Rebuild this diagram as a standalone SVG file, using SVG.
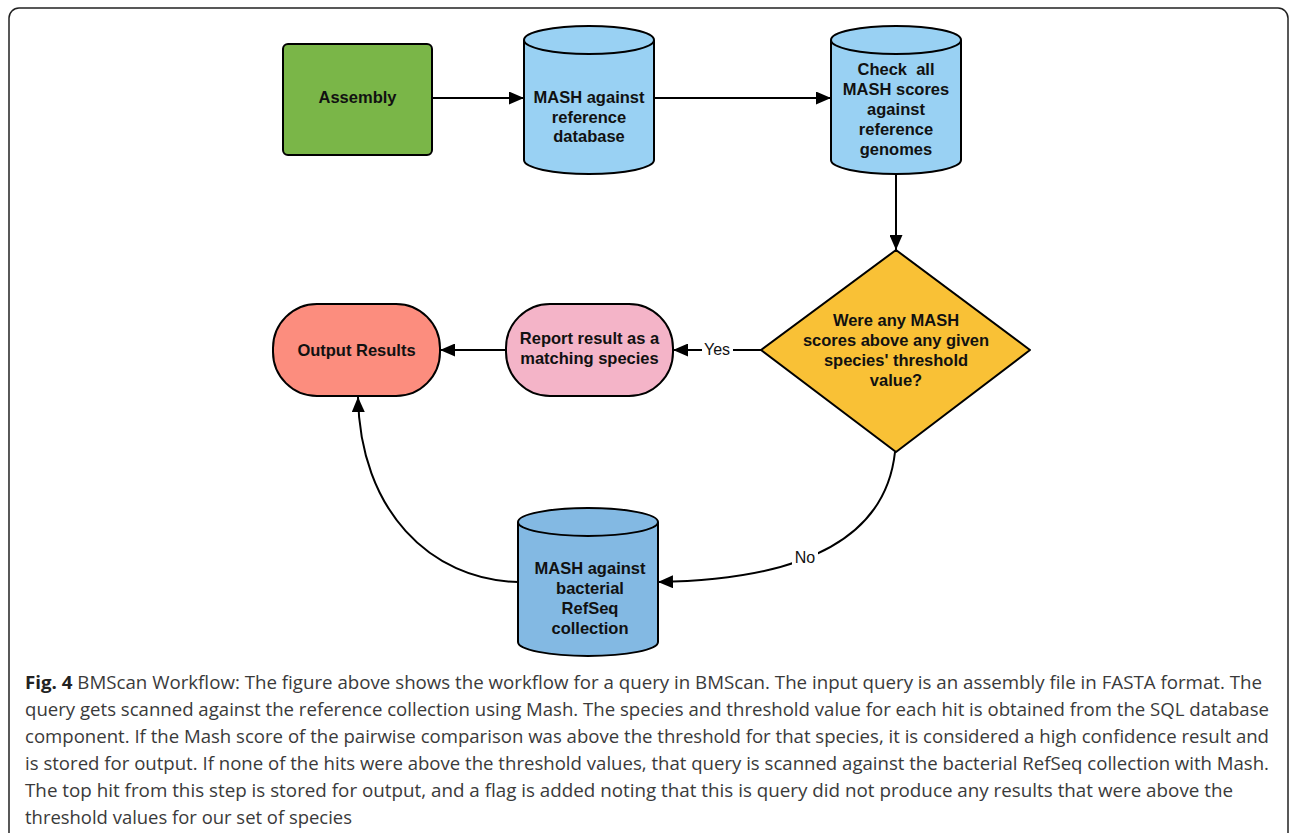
<svg xmlns="http://www.w3.org/2000/svg" width="1290" height="833" viewBox="0 0 1290 833">
<defs>
<marker id="arr" viewBox="0 0 15 13" refX="15" refY="6.5" markerWidth="15" markerHeight="13" markerUnits="userSpaceOnUse" orient="auto">
<path d="M0,0 L15,6.5 L0,13 Z" fill="#000"/>
</marker>
</defs>
<style>
.shape{stroke:#000;stroke-width:2}
.lbl{font-family:"Liberation Sans",Arial,sans-serif;font-weight:bold;font-size:16.5px;fill:#111;text-anchor:middle}
.edge{fill:none;stroke:#000;stroke-width:2}
.elbl{font-family:"Liberation Sans",Arial,sans-serif;font-size:16px;fill:#111;text-anchor:middle}
.cap{font-family:"Open Sans","Noto Sans",sans-serif;font-size:18px;fill:#3a3a3a}
</style>
<rect width="1290" height="833" fill="#fff"/>
<rect x="9" y="8" width="1279" height="850" rx="10" fill="none" stroke="#222" stroke-width="1.5"/>

<g id="connectors">
<path class="edge" d="M432,98 L524,98" marker-end="url(#arr)"/>
<path class="edge" d="M654,98 L831,98" marker-end="url(#arr)"/>
<path class="edge" d="M896,174 L896,250" marker-end="url(#arr)"/>
<path class="edge" d="M761,350 L673,350" marker-end="url(#arr)"/>
<path class="edge" d="M506,350 L440,350" marker-end="url(#arr)"/>
<path class="edge" d="M895,452 C885,545 790,580 658,582" marker-end="url(#arr)"/>
<path class="edge" d="M518,582 C430,580 360,510 358,397" marker-end="url(#arr)"/>
<rect x="702" y="340" width="31" height="18" fill="#fff"/>
<text class="elbl" x="717" y="355">Yes</text>
<rect x="792" y="548" width="26" height="18" fill="#fff"/>
<text class="elbl" x="805" y="563">No</text>
</g>

<g id="assembly">
<rect class="shape" x="283" y="44" width="149" height="111" rx="5" fill="#7ab648"/>
<text class="lbl" x="357.5" y="103">Assembly</text>
</g>

<g id="mash-ref">
<path class="shape" d="M524,40 L524,160 A65,14 0 0 0 654,160 L654,40 A65,14 0 0 0 524,40 Z" fill="#99d1f3"/>
<path class="shape" d="M524,40 A65,14 0 0 0 654,40" fill="none"/>
<text class="lbl" x="589" y="103">MASH against</text>
<text class="lbl" x="589" y="123">reference</text>
<text class="lbl" x="589" y="142">database</text>
</g>

<g id="check-scores">
<path class="shape" d="M831,40 L831,160 A65,14 0 0 0 961,160 L961,40 A65,14 0 0 0 831,40 Z" fill="#99d1f3"/>
<path class="shape" d="M831,40 A65,14 0 0 0 961,40" fill="none"/>
<text class="lbl" x="896" y="75" xml:space="preserve">Check  all</text>
<text class="lbl" x="896" y="95">MASH scores</text>
<text class="lbl" x="896" y="115">against</text>
<text class="lbl" x="896" y="135">reference</text>
<text class="lbl" x="896" y="155">genomes</text>
</g>

<g id="decision">
<path class="shape" d="M896,250 L1030,350 L896,452 L761,350 Z" stroke-linejoin="round" fill="#f9c136"/>
<text class="lbl" x="896" y="326">Were any MASH</text>
<text class="lbl" x="896" y="346">scores above any given</text>
<text class="lbl" x="896" y="366">species' threshold</text>
<text class="lbl" x="896" y="386">value?</text>
</g>

<g id="report">
<rect class="shape" x="506" y="304" width="167" height="92" rx="44" fill="#f4b4c8"/>
<text class="lbl" x="589.5" y="344">Report result as a</text>
<text class="lbl" x="589.5" y="364">matching species</text>
</g>

<g id="output">
<rect class="shape" x="273" y="304" width="167" height="92" rx="44" fill="#fc8d7e"/>
<text class="lbl" x="356.5" y="356">Output Results</text>
</g>

<g id="mash-refseq">
<path class="shape" d="M518,522 L518,642 A70,14 0 0 0 658,642 L658,522 A70,14 0 0 0 518,522 Z" fill="#83b9e3"/>
<path class="shape" d="M518,522 A70,14 0 0 0 658,522" fill="none"/>
<text class="lbl" x="590" y="574">MASH against</text>
<text class="lbl" x="590" y="594">bacterial</text>
<text class="lbl" x="590" y="614">RefSeq</text>
<text class="lbl" x="590" y="634">collection</text>
</g>

<g id="caption">
<text class="cap" x="25" y="689" textLength="1237" lengthAdjust="spacingAndGlyphs"><tspan font-weight="bold" fill="#222">Fig. 4</tspan> BMScan Workflow: The figure above shows the workflow for a query in BMScan. The input query is an assembly file in FASTA format. The</text>
<text class="cap" x="25" y="716" textLength="1244" lengthAdjust="spacingAndGlyphs">query gets scanned against the reference collection using Mash. The species and threshold value for each hit is obtained from the SQL database</text>
<text class="cap" x="25" y="743" textLength="1244" lengthAdjust="spacingAndGlyphs">component. If the Mash score of the pairwise comparison was above the threshold for that species, it is considered a high confidence result and</text>
<text class="cap" x="25" y="770" textLength="1244" lengthAdjust="spacingAndGlyphs">is stored for output. If none of the hits were above the threshold values, that query is scanned against the bacterial RefSeq collection with Mash.</text>
<text class="cap" x="25" y="797" textLength="1208" lengthAdjust="spacingAndGlyphs">The top hit from this step is stored for output, and a flag is added noting that this is query did not produce any results that were above the</text>
<text class="cap" x="25" y="824" textLength="327" lengthAdjust="spacingAndGlyphs">threshold values for our set of species</text>
</g>
</svg>
